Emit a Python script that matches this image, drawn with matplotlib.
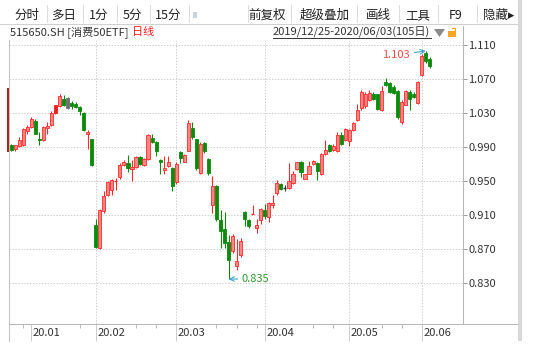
import matplotlib
matplotlib.use('Agg')
import matplotlib.pyplot as plt
from matplotlib.patches import Rectangle, Polygon
from matplotlib.lines import Line2D

plt.rcParams['font.family'] = ['Noto Sans CJK SC', 'DejaVu Sans']

W, H = 539, 352

# 515650.SH daily candles 2019/12/25 - 2020/06/03 (105 days)
opens = [0.993, 0.988, 0.991, 0.992, 1.009, 1.014, 1.021, 1.000, 0.998, 1.013,
         1.016, 1.030, 1.038, 1.047, 1.048, 1.042, 1.041, 1.037, 1.030, 1.005,
         0.999, 0.898, 0.871, 0.915, 0.934, 0.940, 0.950, 0.955, 0.969, 0.971,
         0.964, 0.967, 0.978, 0.969, 0.976, 1.001, 0.996, 0.975, 0.963, 0.968,
         0.965, 0.949, 0.984, 0.973, 0.986, 1.013, 0.999, 0.960, 0.995, 0.976,
         0.922, 0.944, 0.904, 0.894, 0.879, 0.868, 0.850, 0.863, 0.914, 0.904,
         0.911, 0.895, 0.904, 0.916, 0.908, 0.922, 0.936, 0.947, 0.942, 0.942,
         0.948, 0.964, 0.972, 0.953, 0.959, 0.970, 0.971, 0.959, 0.982, 0.993,
         0.987, 0.985, 1.004, 0.998, 0.997, 1.010, 1.022, 1.036, 1.038, 1.045,
         1.053, 1.052, 1.034, 1.067, 1.065, 1.061, 1.056, 1.019, 1.040, 1.055,
         1.052, 1.042, 1.075, 1.101, 1.094]
closes = [0.987, 0.992, 0.998, 1.011, 1.014, 1.023, 1.006, 0.998, 1.014, 1.015,
          1.030, 1.039, 1.050, 1.040, 1.036, 1.038, 1.037, 1.033, 1.010, 1.008,
          0.969, 0.873, 0.916, 0.932, 0.949, 0.951, 0.951, 0.969, 0.973, 0.965,
          0.967, 0.978, 0.970, 0.976, 1.004, 0.996, 0.985, 0.973, 0.965, 0.973,
          0.944, 0.970, 0.977, 0.981, 1.018, 1.002, 0.965, 0.994, 0.985, 0.960,
          0.944, 0.905, 0.891, 0.877, 0.857, 0.885, 0.856, 0.880, 0.906, 0.897,
          0.912, 0.898, 0.917, 0.909, 0.924, 0.924, 0.948, 0.941, 0.942, 0.950,
          0.958, 0.972, 0.961, 0.958, 0.968, 0.974, 0.962, 0.982, 0.987, 0.985,
          0.991, 1.004, 0.994, 1.011, 1.010, 1.018, 1.034, 1.055, 1.053, 1.054,
          1.047, 1.035, 1.056, 1.063, 1.055, 1.054, 1.025, 1.043, 1.056, 1.047,
          1.049, 1.067, 1.097, 1.091, 1.085]
highs = [0.994, 0.993, 1.002, 1.012, 1.016, 1.025, 1.023, 1.008, 1.015, 1.020,
         1.032, 1.040, 1.052, 1.051, 1.049, 1.044, 1.043, 1.038, 1.031, 1.010,
         1.000, 0.906, 0.917, 0.939, 0.950, 0.952, 0.954, 0.971, 0.975, 0.981,
         0.975, 0.979, 0.979, 0.977, 1.005, 1.006, 0.997, 0.976, 0.979, 0.979,
         0.967, 0.973, 0.985, 0.982, 1.022, 1.020, 1.000, 0.996, 0.996, 0.977,
         0.956, 0.945, 0.916, 0.914, 0.887, 0.888, 0.882, 0.883, 0.915, 0.905,
         0.922, 0.906, 0.918, 0.923, 0.925, 0.934, 0.951, 0.948, 0.945, 0.971,
         0.962, 0.973, 0.974, 0.959, 0.974, 0.975, 0.972, 0.983, 0.998, 0.994,
         0.994, 1.008, 1.008, 1.012, 1.011, 1.019, 1.041, 1.057, 1.055, 1.057,
         1.055, 1.053, 1.062, 1.071, 1.067, 1.063, 1.057, 1.045, 1.057, 1.057,
         1.055, 1.068, 1.099, 1.103, 1.096]
lows = [0.986, 0.985, 0.990, 0.991, 1.006, 1.013, 1.005, 0.992, 0.997, 1.006,
        1.015, 1.029, 1.037, 1.038, 1.035, 1.035, 1.036, 1.028, 1.009, 0.988,
        0.968, 0.872, 0.870, 0.913, 0.933, 0.934, 0.940, 0.953, 0.968, 0.961,
        0.950, 0.966, 0.969, 0.968, 0.975, 0.995, 0.979, 0.959, 0.958, 0.967,
        0.938, 0.947, 0.971, 0.972, 0.985, 1.000, 0.963, 0.959, 0.983, 0.957,
        0.912, 0.903, 0.871, 0.871, 0.835, 0.866, 0.846, 0.861, 0.897, 0.895,
        0.911, 0.889, 0.900, 0.906, 0.902, 0.919, 0.934, 0.940, 0.939, 0.941,
        0.947, 0.963, 0.955, 0.952, 0.958, 0.969, 0.951, 0.957, 0.981, 0.984,
        0.986, 0.984, 0.993, 0.997, 0.991, 1.009, 1.021, 1.034, 1.036, 1.044,
        1.045, 1.034, 1.033, 1.062, 1.054, 1.053, 1.023, 1.017, 1.039, 1.034,
        1.048, 1.041, 1.074, 1.089, 1.083]

month_labels = ['20.01', '20.02', '20.03', '20.04', '20.05', '20.06']
month_idx = [5, 21, 41, 63, 84, 102]
week_idx = [3, 17, 31, 36, 51, 56, 61, 75, 80, 92, 97]
yticks = [0.830, 0.870, 0.910, 0.950, 0.990, 1.030, 1.070, 1.110]

high_idx, high_val = 103, 1.103
low_idx, low_val = 54, 0.835

toolbar = ['分时', '多日', '1分', '5分', '15分', '前复权', '超级叠加', '画线', '工具', 'F9', '隐藏▸']
toolbar_x = [27, 64, 99, 132.5, 168, 267, 325, 378, 418, 456, 499]
toolbar_sep = [47, 82.5, 117, 150, 189, 248, 291, 357, 398.6, 438, 477]

# colours
RED_EDGE = '#ff2a2a'
RED_FILL = '#ff8585'
GREEN = '#0b8a0b'
special = {11: ('#ff1a1a', '#ff1a1a'), 14: ('#6e6e6e', '#6e6e6e'), 68: ('#333333', '#333333')}


def fx(x):
    return x / W


def fy(y):
    return 1 - y / H


def fline(x0, x1, y0, y1, color, lw=0.75, ls='-'):
    fig.add_artist(Line2D([fx(x0), fx(x1)], [fy(y0), fy(y1)], transform=fig.transFigure,
                          color=color, lw=lw, ls=ls))


fig = plt.figure(figsize=(W / 100, H / 100), dpi=100)
fig.patch.set_facecolor('white')

# main chart axes (pixel box 9..462.7, 40..324)
ax = fig.add_axes([fx(9), fy(324), (462.7 - 9) / W, (324 - 40) / H])
ax.set_xlim(-0.547, 112.17)
ax.set_ylim(0.78215, 1.11588)
for s in ax.spines.values():
    s.set_visible(False)

# grid
for yt in yticks:
    ax.axhline(yt, color='#d0d0d0', lw=0.7, ls=(0, (1.5, 1.5)), zorder=0)
for mi in month_idx[1:]:
    ax.axvline(mi, color='#d0d0d0', lw=0.7, ls=(0, (1.5, 1.5)), zorder=0)

# candles
bw = 0.78
for i in range(len(opens)):
    o, c, h, l = opens[i], closes[i], highs[i], lows[i]
    if i in special:
        edge, face = special[i]
    elif c >= o:
        edge, face = RED_EDGE, RED_FILL
    else:
        edge, face = GREEN, GREEN
    ax.vlines(i, l, h, color=edge, lw=0.8, zorder=2)
    if abs(c - o) < 0.0012:
        ax.hlines(o, i - bw / 2, i + bw / 2, color=edge, lw=1.0, zorder=3)
    else:
        ax.add_patch(Rectangle((i - bw / 2, min(o, c)), bw, abs(c - o),
                               facecolor=face, edgecolor=edge, lw=0.6, zorder=3))

# y axis on the right
ax.yaxis.tick_right()
ax.set_yticks(yticks)
ax.set_yticklabels(['%.3f' % v for v in yticks])
ax.tick_params(axis='y', length=3, width=0.7, color='#9a9a9a', labelsize=8,
               labelcolor='#333333', pad=1)

# x axis: month ticks + weekly minor ticks
ax.set_xticks(month_idx)
ax.set_xticklabels([])
ax.set_xticks(week_idx, minor=True)
ax.tick_params(axis='x', which='major', length=12.2, width=0.7, color='#cccccc')
ax.tick_params(axis='x', which='minor', length=3, width=0.7, color='#bbbbbb')
for mi, lab in zip(month_idx, month_labels):
    ax.text(mi + 0.35, -0.030, lab, transform=ax.get_xaxis_transform(),
            ha='left', va='center', fontsize=8, color='#333333')

# max / min markers
ax.annotate('%.3f' % high_val, xy=(high_idx, high_val), xytext=(99.1, 1.0982),
            ha='right', va='center', fontsize=8, color='#ee5048',
            arrowprops=dict(arrowstyle='->', color='#3da6cc', lw=0.8,
                            shrinkA=1, shrinkB=0))
ax.annotate('%.3f' % low_val, xy=(low_idx, low_val), xytext=(57.3, low_val),
            ha='left', va='center', fontsize=8, color='#2e9a2e',
            arrowprops=dict(arrowstyle='->', color='#3da6cc', lw=0.8,
                            shrinkA=1, shrinkB=0))

# frame lines
fline(9, 9, 40, 341, '#c4c4c4')
fline(462.7, 462.7, 26, 324, '#b8b8b8')
fline(9, 518, 324, 324, '#b8b8b8')
fig.add_artist(Rectangle((fx(518), fy(341)), 4 / W, 341 / H, transform=fig.transFigure,
                         facecolor='#d9d9d9', edgecolor='none'))
# dark red marker on left edge
fig.add_artist(Rectangle((fx(7), fy(151.7)), 2.3 / W, 64 / H, transform=fig.transFigure,
                         facecolor='#b41e1e', edgecolor='none'))

# toolbar
fline(0, 518, 23.5, 23.5, '#d0d0d0')
for lab, x in zip(toolbar, toolbar_x):
    fig.text(fx(x), fy(15.5), lab, ha='center', va='center', fontsize=9, color='#222222')
for x in toolbar_sep:
    fline(x, x, 5, 22, '#dddddd')
fig.add_artist(Rectangle((fx(193), fy(18)), 4 / W, 6 / H, transform=fig.transFigure,
                         facecolor='#c8d4e0', edgecolor='none'))

# info line
fig.text(fx(10), fy(32.5), '515650.SH [消费50ETF]', ha='left', va='center',
         fontsize=8, color='#333333')
fig.text(fx(132), fy(32.5), '日线', ha='left', va='center', fontsize=8, color='#ff2020')
fig.text(fx(273), fy(32.5), '2019/12/25-2020/06/03(105日)', ha='left', va='center',
         fontsize=8, color='#333333')
fline(273, 431, 38, 38, '#333333', lw=0.7)
fig.add_artist(Polygon([[fx(434), fy(29)], [fx(445), fy(29)], [fx(439.5), fy(37)]],
                       closed=True, transform=fig.transFigure, facecolor='#8a8a8a',
                       edgecolor='none'))
fig.add_artist(Rectangle((fx(448), fy(37)), 8 / W, 6 / H, transform=fig.transFigure,
                         facecolor='#f5a623', edgecolor='none'))
fline(452, 455, 28, 28, '#f5a623', lw=0.8)
fline(455, 455, 28, 31, '#f5a623', lw=0.8)

fig.savefig('out.png', dpi=100)
